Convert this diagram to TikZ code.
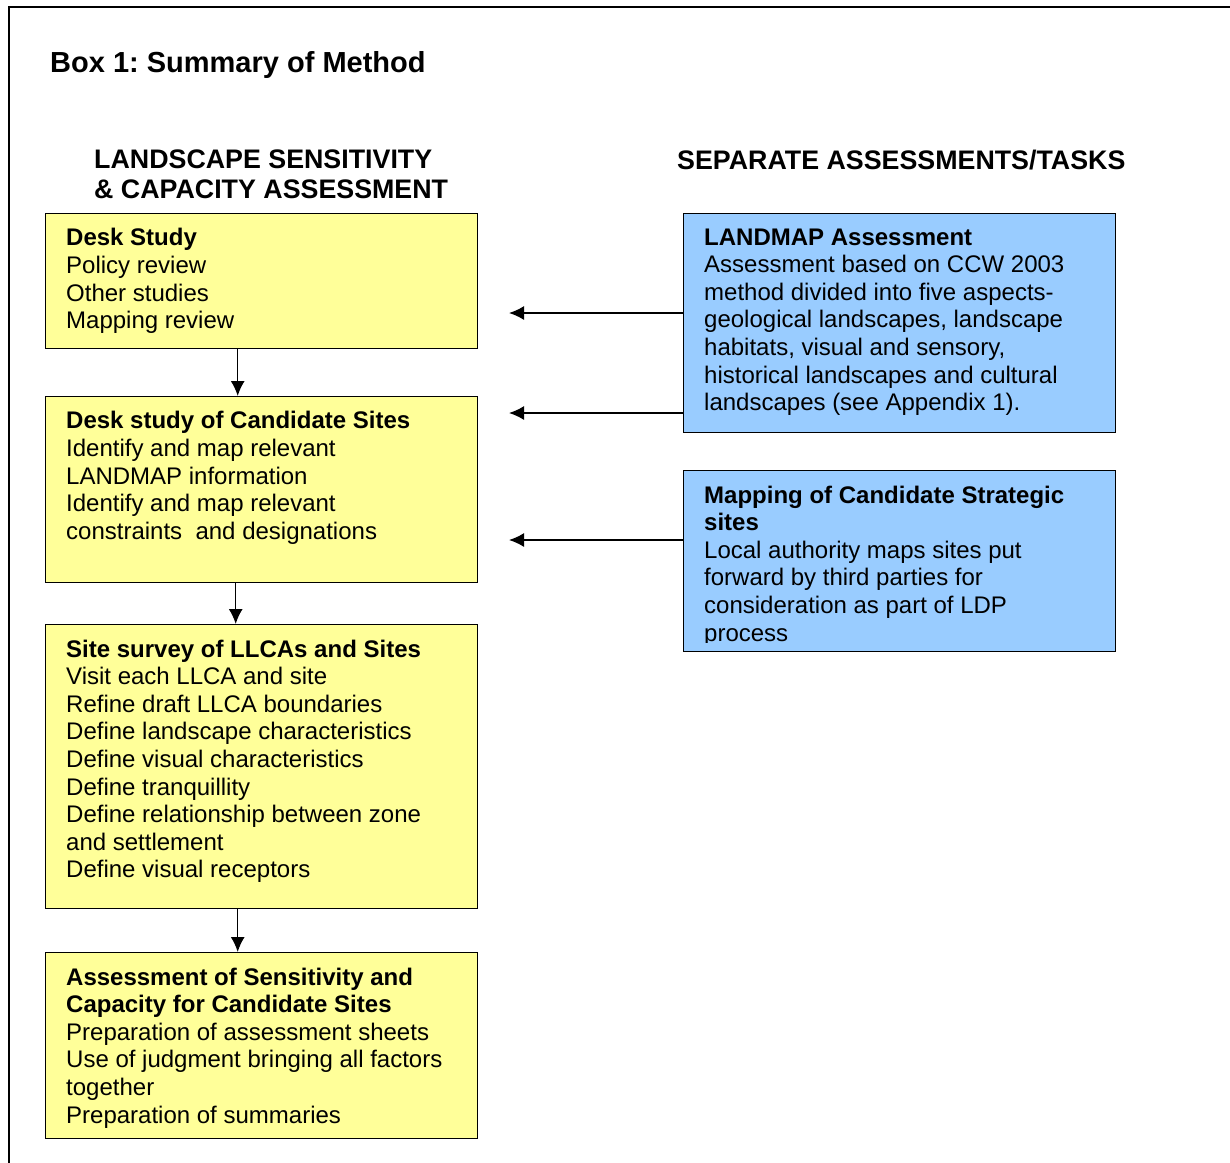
\documentclass[tikz,border=0pt]{standalone}
\usepackage{fontspec}
\setmainfont{Liberation Sans}
\usetikzlibrary{arrows.meta}
\frenchspacing
\definecolor{stepyellow}{HTML}{FFFF99}
\definecolor{taskblue}{HTML}{99CCFF}
\tikzset{
  box/.style={draw, line width=1.4pt, inner sep=0pt, minimum width=432pt, anchor=north west},
  boxtext/.style={anchor=north west, inner sep=0pt, align=left, font=\fontsize{24}{27.6}\selectfont},
  head/.style={anchor=north west, inner sep=0pt, align=left, font=\bfseries\fontsize{26.8}{30}\selectfont}
}
\begin{document}
\begin{tikzpicture}[x=1pt,y=-1pt,>={Latex[length=15pt,width=14pt]}]
\useasboundingbox (0,0) rectangle (1230,1162);
\draw[line width=2pt] (1232,7) -- (9,7) -- (9,1164);

\node[anchor=base west, inner sep=0pt, font=\bfseries\fontsize{29}{34}\selectfont] (title) at (50,72) {Box 1: Summary of Method};
\node[head] (lscaHead) at (94,149.5) {LANDSCAPE SENSITIVITY\\\& CAPACITY ASSESSMENT};
\node[head] (taskHead) at (677,149.5) {SEPARATE ASSESSMENTS/TASKS};

\node[box, fill=stepyellow, minimum height=135pt] (desk) at (45,213) {};
\node[box, fill=stepyellow, minimum height=186pt] (cand) at (45,396) {};
\node[box, fill=stepyellow, minimum height=284pt] (survey) at (45,624) {};
\node[box, fill=stepyellow, minimum height=186pt] (assess) at (45,952) {};
\node[box, fill=taskblue, minimum height=219pt] (landmap) at (683,213) {};
\node[box, fill=taskblue, minimum height=181pt] (mapping) at (683,470) {};

\node[boxtext] (deskTxt) at ([shift={(21pt,-15.4pt)}]desk.north west)
  {\textbf{Desk Study}\\Policy review\\Other studies\\Mapping review};
\node[boxtext] (candTxt) at ([shift={(21pt,-15.4pt)}]cand.north west)
  {\textbf{Desk study of Candidate Sites}\\Identify and map relevant\\LANDMAP information\\Identify and map relevant\\constraints~ and designations};
\node[boxtext] (surveyTxt) at ([shift={(21pt,-15.4pt)}]survey.north west)
  {\textbf{Site survey of LLCAs and Sites}\\Visit each LLCA and site\\Refine draft LLCA boundaries\\Define landscape characteristics\\Define visual characteristics\\Define tranquillity\\Define relationship between zone\\and settlement\\Define visual receptors};
\node[boxtext] (assessTxt) at ([shift={(21pt,-15.4pt)}]assess.north west)
  {\textbf{Assessment of Sensitivity and}\\\textbf{Capacity for Candidate Sites}\\Preparation of assessment sheets\\Use of judgment bringing all factors\\together\\Preparation of summaries};
\node[boxtext] (landmapTxt) at ([shift={(21pt,-15.4pt)}]landmap.north west)
  {\textbf{LANDMAP Assessment}\\Assessment based on CCW 2003\\method divided into five aspects-\\geological landscapes, landscape\\habitats, visual and sensory,\\historical landscapes and cultural\\landscapes (see Appendix 1).};
\begin{scope}
\clip (mapping.north west) rectangle ([yshift=10pt]mapping.south east);
\node[boxtext] (mappingTxt) at ([shift={(21pt,-15.4pt)}]mapping.north west)
  {\textbf{Mapping of Candidate Strategic}\\\textbf{sites}\\Local authority maps sites put\\forward by third parties for\\consideration as part of LDP\\process};
\end{scope}

\coordinate (deskIn) at (509,313);
\coordinate (candIn) at (509,413);
\coordinate (candIn2) at (509,540);

\draw[->, line width=1.5pt] ([xshift=-24pt]desk.south) -- ([xshift=-24pt]cand.north);
\draw[->, line width=1.5pt] ([xshift=-26pt]cand.south) -- ([xshift=-26pt]survey.north);
\draw[->, line width=1.5pt] ([xshift=-24pt]survey.south) -- ([xshift=-24pt]assess.north);
\draw[->, line width=1.5pt] (landmap.west |- deskIn) -- (deskIn);
\draw[->, line width=1.5pt] (landmap.west |- candIn) -- (candIn);
\draw[->, line width=1.5pt] (mapping.west |- candIn2) -- (candIn2);
\end{tikzpicture}
\end{document}
